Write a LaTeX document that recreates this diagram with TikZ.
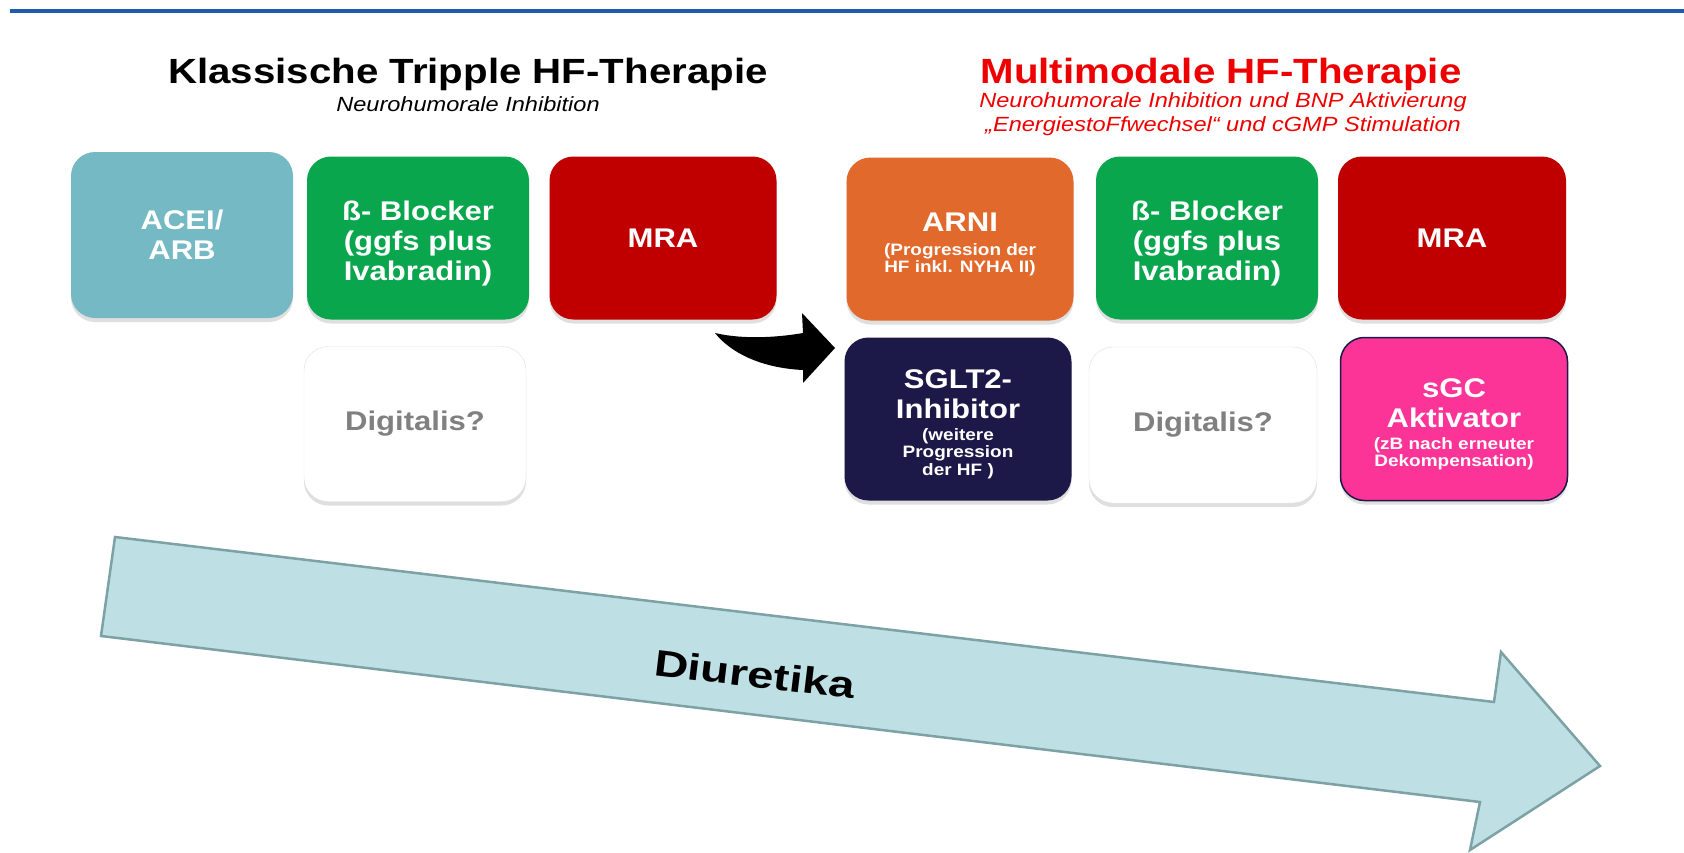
\documentclass[tikz,border=0pt]{standalone}
\usepackage{fontspec}
\setmainfont[FakeStretch=1.15]{Liberation Sans}
\usepackage{xcolor}
\usepackage{graphicx}
\usetikzlibrary{shadows,calc}

\definecolor{topblue}{HTML}{1E5BA8}
\definecolor{aceiteal}{HTML}{74B9C3}
\definecolor{betagreen}{HTML}{0AA64E}
\definecolor{mradred}{HTML}{C00000}
\definecolor{arniorange}{HTML}{E2692C}
\definecolor{sgltnavy}{HTML}{1C1848}
\definecolor{sgcpink}{HTML}{FD3497}
\definecolor{titlered}{HTML}{EE0000}
\definecolor{arrowfill}{HTML}{BEE0E5}
\definecolor{arrowline}{HTML}{7DA2A5}

% small explanatory lines inside the boxes
\newcommand{\notetext}[1]{{\fontsize{16.5}{17.5}\selectfont\begin{tabular}[t]{@{}c@{}}#1\end{tabular}}}
% extra room above the first line, pushes longer texts a bit down
\newcommand{\padtop}{\rule{0pt}{31pt}}

\tikzset{
  drug/.style={rounded corners=24pt, minimum width=222pt, minimum height=163pt,
    inner sep=0pt, align=center, text=white,
    font=\bfseries\fontsize{27}{30}\selectfont,
    drop shadow={shadow xshift=0pt, shadow yshift=-4pt, opacity=0.25}},
  optional/.style={drug, fill=white, draw=black!12, text=black!50},
  headline/.style={font=\bfseries\fontsize{35}{40}\selectfont},
  subline/.style={align=center, font=\itshape\fontsize{20.5}{24.5}\selectfont}
}

\begin{document}
\begin{tikzpicture}[x=1pt, y=-1pt]
    % --- Frame ---
    \fill[white] (0,0) rectangle (1684,852);
    \useasboundingbox (0,0) rectangle (1684,852);
    \draw[topblue, line width=4pt] (10,11) -- (1684,11);

    % --- Titles ---
    \node[headline] (lefttitle) at (468,74) {Klassische Tripple HF-Therapie};
    \node[subline] (leftsub) at (468,104) {Neurohumorale Inhibition};
    \node[headline, text=titlered] (righttitle) at (1221,74) {Multimodale HF-Therapie};
    \node[subline, text=titlered] (rightsub) at (1223,114)
        {Neurohumorale Inhibition und BNP Aktivierung\\„EnergiestoFfwechsel“ und cGMP Stimulation};

    % --- Classic therapy ---
    \node[drug, fill=aceiteal, minimum height=166pt] (aceiL) at (182,235) {ACEI/\\ARB};
    \node[drug, fill=betagreen] (betaL) at (418,238) {\padtop ß- Blocker\\(ggfs plus\\Ivabradin)};
    \node[drug, fill=mradred, minimum width=227pt] (mraL) at (663,238) {MRA};
    \node[optional, minimum height=155pt] (digL) at (415,424) {Digitalis?};

    % --- Multimodal therapy ---
    \node[drug, fill=arniorange, minimum width=227pt] (arni) at (960,239)
        {\padtop ARNI\\[-6pt]\notetext{(Progression der\\HF inkl. NYHA II)}};
    \node[drug, fill=betagreen] (betaR) at (1207,238) {\padtop ß- Blocker\\(ggfs plus\\Ivabradin)};
    \node[drug, fill=mradred, minimum width=228pt] (mraR) at (1452,238) {MRA};
    \node[drug, fill=sgltnavy, minimum width=227pt] (sglt) at (958,419)
        {\padtop SGLT2-\\Inhibitor\\[-8pt]\notetext{(weitere\\Progression\\der HF )}};
    \node[optional, minimum width=228pt, minimum height=156pt] (digR) at (1203,425) {Digitalis?};
    \node[drug, fill=sgcpink, draw=sgltnavy, line width=1.5pt, minimum width=227pt] (sgc) at (1454,419)
        {\padtop sGC\\Aktivator\\[-8pt]\notetext{(zB nach erneuter\\Dekompensation)}};

    % --- Switch arrow ---
    \coordinate (bTail) at (715,333);
    \coordinate (bUp) at (803,333);
    \coordinate (bHeadUp) at (802,313);
    \coordinate (bTip) at (835,348);
    \coordinate (bHeadLow) at (803,383);
    \coordinate (bLow) at (803,370);
    \fill[black] (bTail) .. controls (745,340) and (780,337) .. (bUp) -- (bHeadUp) -- (bTip)
        -- (bHeadLow) -- (bLow) .. controls (760,368) and (730,352) .. (bTail) -- cycle;

    % --- Diuretics arrow ---
    \coordinate (tailTop) at (115,537);
    \coordinate (notchTop) at (1494,702);
    \coordinate (headTop) at (1501,652);
    \coordinate (headTip) at (1600,766);
    \coordinate (headBot) at (1470,850);
    \coordinate (notchBot) at (1480,802);
    \coordinate (tailBot) at (101,636);
    \filldraw[fill=arrowfill, draw=arrowline, line width=2.5pt, line join=miter]
        (tailTop) -- (notchTop) -- (headTop) -- (headTip) -- (headBot) -- (notchBot) -- (tailBot) -- cycle;
    \node[rotate=-6.8, font=\bfseries\fontsize{37}{40}\selectfont] (diuretika) at (755,674)
        {\scalebox{1.11}[1]{Diuretika}};

\end{tikzpicture}
\end{document}
